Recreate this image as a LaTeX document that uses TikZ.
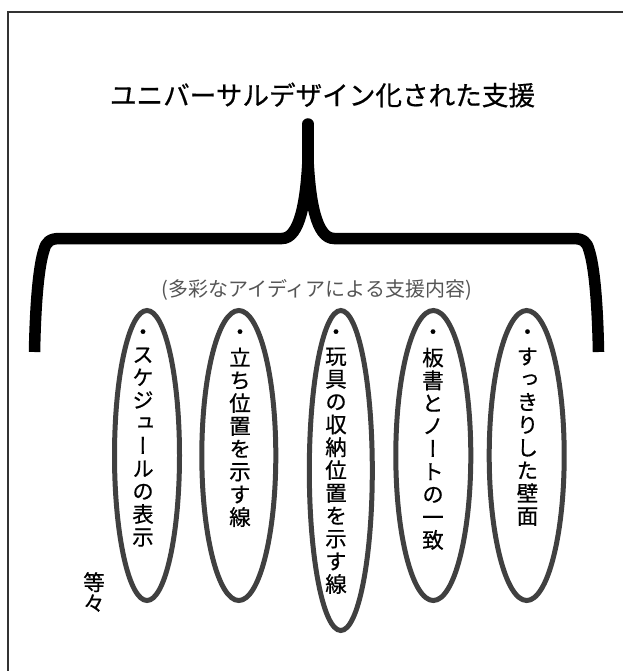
\documentclass[tikz,border=0pt]{standalone}
\usepackage{fontspec}
\usepackage{graphicx}
\setmainfont{Noto Sans CJK JP}[FakeBold=0.6]
\newfontfamily\jpv{Noto Sans CJK JP}[RawFeature=+vert, FakeBold=0.6]
\newfontfamily\jpreg{Noto Sans CJK JP}
\usetikzlibrary{shapes.geometric}
\definecolor{ellgray}{HTML}{404040}
\definecolor{subgray}{HTML}{555555}
\definecolor{framegray}{HTML}{333333}
\tikzset{
  oval/.style={draw=ellgray, line width=5pt, ellipse, inner sep=0pt},
  vtxt/.style={font=\jpv\fontsize{21.5}{22.8}\selectfont, align=center, inner sep=0pt, anchor=north},
  bracestroke/.style={line width=11.5pt, line join=round, line cap=butt},
  titletxt/.style={font=\fontsize{26.6}{30}\selectfont, inner sep=0pt},
  subtxt/.style={font=\jpreg\fontsize{20}{24}\selectfont, text=subgray, inner sep=0pt},
}
\begin{document}
\begin{tikzpicture}[x=1pt,y=-1pt]
\useasboundingbox (0,0) rectangle (623,671);
% frame (only top and left edges visible)
\draw[framegray, line width=1.3pt] (8,671) -- (8,12) -- (623,12);
% title
\node[titletxt] (title) at (322.5,95) {ユニバーサルデザイン化された支援};
% brace
\coordinate (stemtop) at (308,124);
\coordinate (stemjoin) at (308,160);
\draw[bracestroke, line cap=round] (stemtop) -- (308,166);
\draw[bracestroke] (34.5,352) .. controls (35.5,300) and (39,265) .. (44,250)
  .. controls (46,242) and (50,238.5) .. (60,238.5) -- (282,238.5)
  .. controls (300,238.5) and (306,200) .. (stemjoin);
\draw[bracestroke] (598.5,352) .. controls (597.5,300) and (594,265) .. (589,250)
  .. controls (587,242) and (583,238.5) .. (573,238.5) -- (334,238.5)
  .. controls (316,238.5) and (310,200) .. (stemjoin);
% subtitle
\node[subtxt] (sub) at (316.5,290) {(多彩なアイディアによる支援内容)};
% ellipses
\node[oval, minimum width=65pt, minimum height=290pt] (e1) at (147,455.5) {};
\node[oval, minimum width=74pt, minimum height=290pt] (e2) at (238.8,455.5) {};
\node[oval, minimum width=63pt, minimum height=320pt] (e3) at (340.8,470.5) {};
\node[oval, minimum width=75pt, minimum height=290pt] (e4) at (433.3,455.5) {};
\node[oval, minimum width=75pt, minimum height=290pt] (e5) at (526.7,455.5) {};
% vertical texts
\node[vtxt] (t1) at (143,323.6) {\strut ・\\ス\\ケ\\ジ\\ュ\\ー\\ル\\の\\表\\示};
\node[vtxt] (t2) at (240,323.6) {\strut ・\\立\\ち\\位\\置\\を\\示\\す\\線};
\node[vtxt] (t3) at (336,323.6) {\strut ・\\玩\\具\\の\\収\\納\\位\\置\\を\\示\\す\\線};
\node[vtxt] (t4) at (433,323.6) {\strut ・\\板\\書\\と\\ノ\\ー\\ト\\の\\一\\致};
\node[vtxt] (t5) at (527.5,323.6) {\strut ・\\す\\っ\\き\\り\\し\\た\\壁\\面};
% etc.
\node[font=\jpv\fontsize{21.5}{21}\selectfont, align=center, inner sep=0pt] (etc) at (94,592) {等\\々};
\end{tikzpicture}
\end{document}
